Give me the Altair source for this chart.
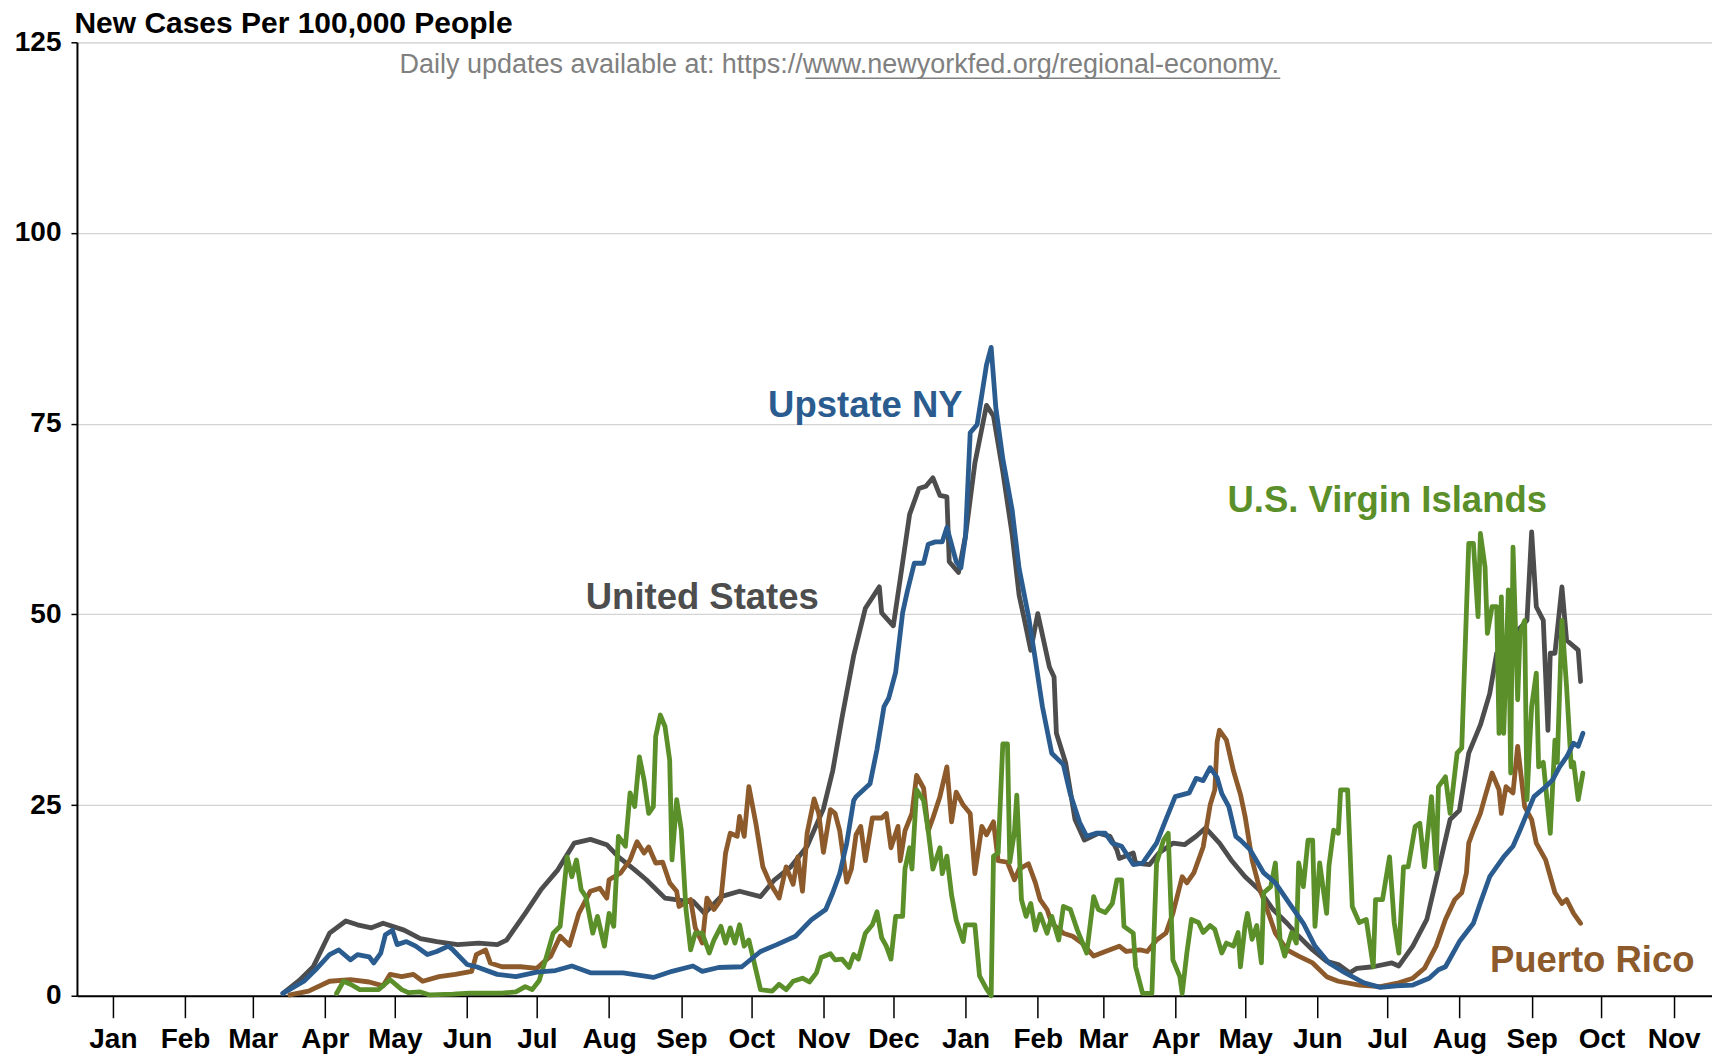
import altair as alt
import pandas as pd

START = pd.Timestamp("2020-01-01")

# ---- values (day = days since 2020-01-01) ----
US_DAY = [73, 80, 86, 93, 100, 105, 111, 116, 125, 132, 139, 148, 157, 165, 169, 177, 184, 191, 198, 205,
          212, 217, 224, 229, 237, 244, 249, 254, 261, 269, 278, 284, 291, 298, 305, 309, 313, 318, 323, 329,
          330, 335, 338, 342, 346, 349, 352, 355, 358, 359, 363, 366, 370, 375, 378, 382, 386, 389, 391, 394,
          397, 402, 404, 405, 409, 413, 417, 423, 428, 431, 432, 438, 439, 445, 449, 455, 460, 465, 469, 475,
          480, 486, 492, 498, 504, 509, 515, 521, 526, 531, 534, 541, 549, 552, 558, 564, 569, 574, 578, 582,
          587, 591, 594, 598, 602, 607, 609, 611, 614, 616, 617, 619, 622, 624, 629, 630]
US_VAL = [0.3, 2.0, 3.8, 8.2, 9.8, 9.3, 8.9, 9.5, 8.6, 7.5, 7.1, 6.7, 6.9, 6.7, 7.3, 10.8, 14.0, 16.5, 20.0, 20.5,
          19.8, 18.2, 16.5, 15.2, 12.8, 12.5, 12.4, 10.8, 13.0, 13.7, 13.0, 15.2, 16.9, 19.6, 24.5, 29.5, 36.5, 44.6, 50.8, 53.6,
          50.2, 48.5, 54.7, 63.1, 66.5, 66.8, 67.9, 65.6, 65.4, 56.9, 55.5, 60.3, 69.8, 77.4, 76.0, 68.7, 60.5, 52.5, 49.7, 45.3,
          50.1, 43.1, 41.8, 34.4, 30.5, 23.1, 20.4, 21.3, 20.9, 19.1, 18.0, 18.7, 17.4, 17.2, 18.7, 20.0, 19.8, 20.9, 22.0, 20.0,
          17.8, 15.6, 13.9, 11.3, 9.5, 7.8, 6.0, 4.5, 4.1, 3.0, 3.6, 3.8, 4.3, 3.9, 6.5, 10.0, 16.5, 23.1, 24.3, 31.8,
          35.5, 39.6, 44.9, 45.8, 47.5, 49.2, 60.8, 51.0, 49.2, 34.8, 44.9, 44.9, 53.6, 46.6, 45.3, 41.2]

NY_DAY = [73, 82, 87, 93, 97, 102, 105, 110, 112, 115, 117, 120, 122, 126, 130, 135, 139, 144, 146, 152,
          156, 165, 173, 182, 190, 197, 205, 219, 232, 240, 249, 253, 260, 270, 278, 285, 293, 300, 306, 309,
          312, 315, 318, 319, 325, 328, 331, 333, 336, 339, 341, 344, 348, 350, 353, 356, 358, 362, 364, 366,
          368, 371, 373, 375, 377, 379, 382, 386, 389, 393, 396, 399, 403, 408, 411, 415, 418, 422, 426, 429,
          433, 438, 442, 448, 452, 456, 462, 465, 468, 471, 474, 476, 479, 482, 484, 488, 494, 499, 505, 511,
          516, 522, 529, 537, 544, 551, 558, 565, 569, 572, 578, 584, 587, 591, 597, 601, 604, 607, 610, 615,
          618, 621, 624, 627, 629, 631]
NY_VAL = [0.3, 1.9, 3.4, 5.4, 6.0, 4.7, 5.4, 5.1, 4.3, 5.6, 8.0, 8.6, 6.7, 7.1, 6.5, 5.4, 5.8, 6.5, 6.0, 4.1,
          3.8, 2.8, 2.5, 3.1, 3.3, 3.9, 3.0, 3.0, 2.4, 3.2, 3.9, 3.2, 3.7, 3.8, 5.8, 6.7, 7.8, 10.0, 11.3, 13.5,
          16.0, 20.0, 25.6, 26.1, 27.8, 32.3, 37.9, 39.0, 42.4, 50.2, 53.0, 56.7, 56.7, 59.2, 59.5, 59.5, 61.4, 56.9, 56.1, 60.3,
          73.8, 74.9, 78.8, 82.7, 85.0, 77.1, 70.4, 63.7, 56.0, 49.8, 44.0, 37.9, 31.8, 30.3, 26.4, 22.7, 20.9, 21.3, 21.3, 20.0,
          19.6, 17.2, 17.4, 20.0, 23.1, 26.1, 26.6, 28.5, 28.2, 29.9, 28.6, 26.5, 24.8, 20.9, 20.4, 19.2, 16.1, 14.8, 12.1, 9.5,
          6.5, 4.3, 3.0, 1.7, 1.1, 1.3, 1.4, 2.3, 3.4, 3.8, 7.1, 9.5, 12.2, 15.6, 18.2, 19.6, 21.7, 23.9, 26.1, 27.4,
          28.3, 30.0, 31.3, 33.1, 32.7, 34.4]

PR_DAY = [76, 84, 93, 102, 110, 116, 119, 124, 129, 133, 140, 147, 154, 156, 160, 162, 167, 175, 182, 186,
          188, 192, 196, 200, 205, 209, 212, 213, 218, 222, 225, 228, 230, 233, 236, 239, 242, 243, 248, 250,
          253, 255, 258, 261, 263, 265, 268, 269, 271, 273, 276, 279, 282, 286, 289, 292, 294, 296, 298, 301,
          303, 305, 308, 310, 312, 315, 317, 319, 321, 323, 326, 330, 332, 334, 337, 338, 340, 343, 345, 348,
          350, 352, 355, 358, 360, 362, 365, 368, 370, 373, 375, 378, 380, 384, 387, 389, 393, 396, 398, 401,
          403, 408, 412, 416, 421, 426, 432, 435, 441, 444, 448, 452, 455, 459, 461, 464, 468, 471, 473, 474,
          475, 478, 481, 484, 486, 489, 492, 495, 499, 504, 509, 515, 521, 526, 535, 544, 552, 558, 563, 568,
          572, 576, 579, 581, 582, 584, 587, 589, 592, 595, 596, 598, 601, 603, 606, 609, 611, 615, 619, 622,
          624, 627, 630]
PR_VAL = [0.1, 0.6, 1.9, 2.1, 1.8, 1.3, 2.8, 2.5, 2.8, 1.9, 2.5, 2.8, 3.2, 5.4, 6.0, 4.3, 3.8, 3.8, 3.6, 4.7,
          5.2, 7.8, 6.6, 10.8, 13.7, 14.1, 12.8, 15.2, 16.1, 17.8, 20.2, 18.7, 19.5, 17.4, 17.5, 14.8, 13.7, 11.7, 12.6, 8.9,
          6.9, 12.8, 11.3, 12.6, 18.7, 21.3, 20.9, 23.5, 20.9, 27.4, 22.6, 16.9, 14.8, 12.8, 16.9, 14.6, 18.2, 13.7, 21.3, 25.8,
          23.9, 18.8, 24.4, 23.9, 21.6, 14.9, 16.6, 21.1, 22.2, 17.7, 23.3, 23.3, 23.9, 19.4, 22.2, 17.7, 21.6, 23.9, 28.9, 27.2,
          21.6, 23.3, 26.1, 30.0, 22.8, 26.7, 25.0, 23.9, 16.0, 22.2, 21.1, 22.8, 17.7, 17.5, 15.2, 16.6, 17.3, 14.8, 12.6, 11.3,
          9.5, 8.2, 7.8, 6.9, 5.2, 5.8, 6.5, 5.8, 6.0, 5.8, 7.3, 8.2, 10.8, 15.6, 14.8, 16.1, 19.5, 25.0, 27.0, 33.3,
          34.8, 33.5, 29.5, 26.4, 23.5, 17.8, 14.3, 11.7, 8.2, 6.0, 5.2, 4.3, 2.5, 1.9, 1.4, 1.2, 1.7, 2.3, 3.6, 6.5,
          10.0, 12.6, 13.5, 16.1, 20.0, 21.7, 23.9, 26.1, 29.2, 27.0, 23.9, 27.4, 26.6, 32.7, 24.8, 23.1, 20.0, 17.8, 13.5, 12.1,
          12.6, 10.8, 9.5]

VI_DAY = [96, 99, 102, 106, 114, 119, 124, 127, 132, 136, 146, 153, 167, 173, 177, 180, 183, 186, 189, 192,
          195, 197, 199, 201, 203, 206, 208, 211, 213, 215, 217, 220, 222, 224, 226, 228, 230, 232, 233, 235,
          237, 239, 240, 242, 244, 246, 248, 250, 253, 256, 258, 261, 263, 265, 267, 269, 271, 273, 278, 283,
          286, 289, 292, 296, 299, 302, 304, 308, 310, 313, 316, 318, 320, 323, 326, 328, 330, 332, 334, 336,
          339, 340, 342, 343, 345, 348, 350, 352, 355, 356, 358, 360, 362, 365, 366, 370, 372, 375, 377, 378,
          380, 382, 384, 385, 387, 388, 390, 392, 394, 396, 398, 401, 403, 406, 408, 411, 414, 418, 421, 423,
          426, 429, 431, 433, 434, 438, 439, 442, 446, 448, 451, 453, 455, 458, 459, 461, 463, 466, 468, 471,
          473, 476, 478, 481, 483, 484, 486, 487, 489, 491, 493, 494, 497, 499, 501, 503, 506, 508, 509, 511,
          513, 515, 516, 518, 521, 522, 524, 526, 527, 530, 532, 535, 538, 541, 542, 545, 548, 550, 552, 554,
          556, 559, 561, 563, 566, 568, 569, 572, 574, 577, 579, 582, 584, 586, 587, 589, 590, 592, 594, 595,
          596, 597, 599, 600, 601, 603, 604, 606, 607, 608, 609, 611, 612, 614, 617, 619, 620, 622, 624, 626,
          627, 629, 631]
VI_VAL = [0.3, 1.9, 1.5, 0.8, 0.8, 2.1, 0.8, 0.4, 0.5, 0.1, 0.2, 0.35, 0.35, 0.5, 1.2, 0.8, 2.0, 5.0, 8.2, 9.1,
          18.2, 15.6, 17.8, 13.9, 13.0, 8.2, 10.4, 6.5, 10.8, 9.1, 20.9, 19.6, 26.6, 24.8, 31.3, 28.3, 23.9, 24.8, 34.0, 36.8,
          35.3, 30.9, 17.8, 25.7, 21.7, 11.3, 6.0, 8.2, 8.2, 5.6, 7.3, 9.1, 6.9, 8.9, 6.9, 9.3, 6.5, 7.3, 0.8, 0.6,
          1.5, 0.8, 1.9, 2.3, 1.8, 3.0, 5.0, 5.5, 4.7, 4.8, 3.7, 5.4, 4.8, 8.2, 9.3, 11.0, 7.6, 6.5, 4.8, 10.4,
          10.4, 16.6, 19.4, 16.6, 27.0, 25.6, 21.6, 16.6, 19.4, 16.0, 18.3, 13.2, 9.9, 7.1, 9.3, 9.3, 2.6, 0.9, 0.0, 18.3,
          18.7, 33.0, 33.0, 17.5, 21.5, 26.3, 12.6, 10.4, 12.1, 8.6, 10.7, 8.2, 10.4, 7.3, 11.7, 11.3, 8.6, 5.6, 13.0, 11.3,
          10.9, 12.1, 15.2, 15.2, 9.1, 8.2, 3.8, 0.3, 0.3, 17.4, 20.4, 21.3, 4.7, 2.5, 0.3, 5.6, 10.0, 9.6, 8.3, 9.2,
          8.7, 5.6, 6.9, 6.5, 8.3, 3.8, 9.2, 10.8, 7.4, 9.2, 4.3, 13.5, 14.3, 17.4, 7.4, 5.2, 8.3, 6.9, 17.4, 14.3,
          20.4, 20.4, 9.1, 17.4, 10.8, 17.0, 21.7, 21.3, 27.0, 27.0, 11.7, 9.6, 10.0, 3.8, 12.6, 12.6, 18.2, 9.6, 5.6, 16.9,
          16.9, 22.2, 22.6, 16.9, 26.1, 16.6, 27.4, 28.7, 23.9, 31.8, 32.5, 59.3, 59.3, 49.7, 60.6, 56.2, 47.5, 51.0, 51.0, 34.4,
          52.3, 34.4, 53.2, 29.2, 58.8, 38.8, 47.5, 49.2, 25.7, 32.2, 37.9, 42.3, 30.0, 30.6, 21.3, 33.5, 30.6, 49.2, 40.5, 30.0,
          30.6, 25.7, 29.2]

SERIES = ["United States", "Puerto Rico", "U.S. Virgin Islands", "Upstate NY"]
COLORS = ["#4d4d4d", "#8c5a2b", "#5b8f2a", "#2b5c8f"]

MONTH_TICKS = [(2020, m) for m in range(1, 13)] + [(2021, m) for m in range(1, 12)]

LABELS = ["United States", "Upstate NY", "U.S. Virgin Islands", "Puerto Rico"]
LABEL_DAY = [253, 323, 547, 635]
LABEL_VAL = [52.2, 77.3, 64.9, 4.6]
LABEL_COLOR = ["#4d4d4d", "#2b5c8f", "#5b8f2a", "#8c5a2b"]

NOTE_PREFIX = "Daily updates available at: https://"
NOTE_LINK = "www.newyorkfed.org/regional-economy."
NOTE_DAY = 311.8
NOTE_VAL = 122.0
UNDERLINE_DAYS = [297.3, 501.1]
UNDERLINE_VAL = 120.3

TITLE = "New Cases Per 100,000 People"
TITLE_DAY = -16.5
TITLE_VAL = 127.4


def to_date(days):
    return [(START + pd.Timedelta(days=float(d))).strftime("%Y-%m-%dT%H:%M:%S") for d in days]


frames = []
for name, days, vals in [("United States", US_DAY, US_VAL), ("Puerto Rico", PR_DAY, PR_VAL),
                         ("U.S. Virgin Islands", VI_DAY, VI_VAL), ("Upstate NY", NY_DAY, NY_VAL)]:
    frames.append(pd.DataFrame({"date": to_date(days), "value": vals, "series": name}))
data = pd.concat(frames, ignore_index=True)

labels_df = pd.DataFrame({"date": to_date(LABEL_DAY), "value": LABEL_VAL, "label": LABELS,
                          "color": LABEL_COLOR})
note_df = pd.DataFrame({"date": to_date([NOTE_DAY]), "value": [NOTE_VAL],
                        "label": [NOTE_PREFIX + NOTE_LINK]})
title_df = pd.DataFrame({"date": to_date([TITLE_DAY]), "value": [TITLE_VAL], "label": [TITLE]})
ul_df = pd.DataFrame({"date": to_date([UNDERLINE_DAYS[0]]), "date2": to_date([UNDERLINE_DAYS[1]]),
                      "value": [UNDERLINE_VAL]})

x_scale = alt.Scale(type="utc",
                    domain=[alt.DateTime(year=2019, month=12, date=16, hours=14, utc=True),
                            alt.DateTime(year=2021, month=11, date=17, hours=10, utc=True)])
y_scale = alt.Scale(domain=[0, 125], nice=False, zero=True)

tick_values = [alt.DateTime(year=y, month=m, date=1, utc=True) for y, m in MONTH_TICKS]

FONT = "Liberation Sans"

x_axis = alt.Axis(values=tick_values, labelExpr="utcFormat(datum.value, '%b')", title=None,
                  grid=False, tickSize=22, tickWidth=1.5, tickColor="black", domainColor="black",
                  domainWidth=2, labelFont=FONT, labelFontWeight="bold", labelFontSize=28,
                  labelColor="black", labelPadding=8, labelFlush=False, labelOverlap=False)
y_axis = alt.Axis(values=[0, 25, 50, 75, 100, 125], title=None, grid=True, gridColor="#d4d4d4",
                  gridWidth=1.2, tickSize=6, tickColor="black", tickWidth=1.5, domainColor="black",
                  domainWidth=2, labelFont=FONT, labelFontWeight="bold", labelFontSize=28,
                  labelColor="black", labelPadding=10)

lines = alt.Chart(data).mark_line(strokeWidth=4.8, strokeJoin="round", strokeCap="round").encode(
    x=alt.X("date:T", scale=x_scale, axis=x_axis),
    y=alt.Y("value:Q", scale=y_scale, axis=y_axis),
    color=alt.Color("series:N", scale=alt.Scale(domain=SERIES, range=COLORS), legend=None),
    detail="series:N",
    order=alt.Order("date:T"),
)

# one layer per series so that later series are drawn on top
line_layers = [lines.transform_filter(alt.datum.series == name) for name in SERIES]

label_text = alt.Chart(labels_df).mark_text(font=FONT, fontWeight="bold", fontSize=36.5,
                                            align="center", baseline="middle").encode(
    x=alt.X("date:T", scale=x_scale),
    y=alt.Y("value:Q", scale=y_scale),
    text="label:N",
    color=alt.Color("color:N", scale=None),
)

note_text = alt.Chart(note_df).mark_text(font=FONT, fontSize=27, color="#808080",
                                         align="center", baseline="middle").encode(
    x=alt.X("date:T", scale=x_scale),
    y=alt.Y("value:Q", scale=y_scale),
    text="label:N",
)

title_text = alt.Chart(title_df).mark_text(font=FONT, fontSize=30, fontWeight="bold", color="black",
                                           align="left", baseline="middle").encode(
    x=alt.X("date:T", scale=x_scale),
    y=alt.Y("value:Q", scale=y_scale),
    text="label:N",
)

underline = alt.Chart(ul_df).mark_rule(color="#808080", strokeWidth=1.5).encode(
    x=alt.X("date:T", scale=x_scale),
    x2="date2:T",
    y=alt.Y("value:Q", scale=y_scale),
)

chart = alt.layer(*line_layers, label_text, note_text, underline, title_text).properties(
    width=1636, height=954,
    autosize=alt.AutoSizeParams(type="none"),
    padding={"left": 69, "top": 34, "right": 0, "bottom": 62},
).configure_view(stroke="black", strokeWidth=2).configure(background="white")

chart.save("out.html", embed_options={"renderer": "svg", "actions": False})
